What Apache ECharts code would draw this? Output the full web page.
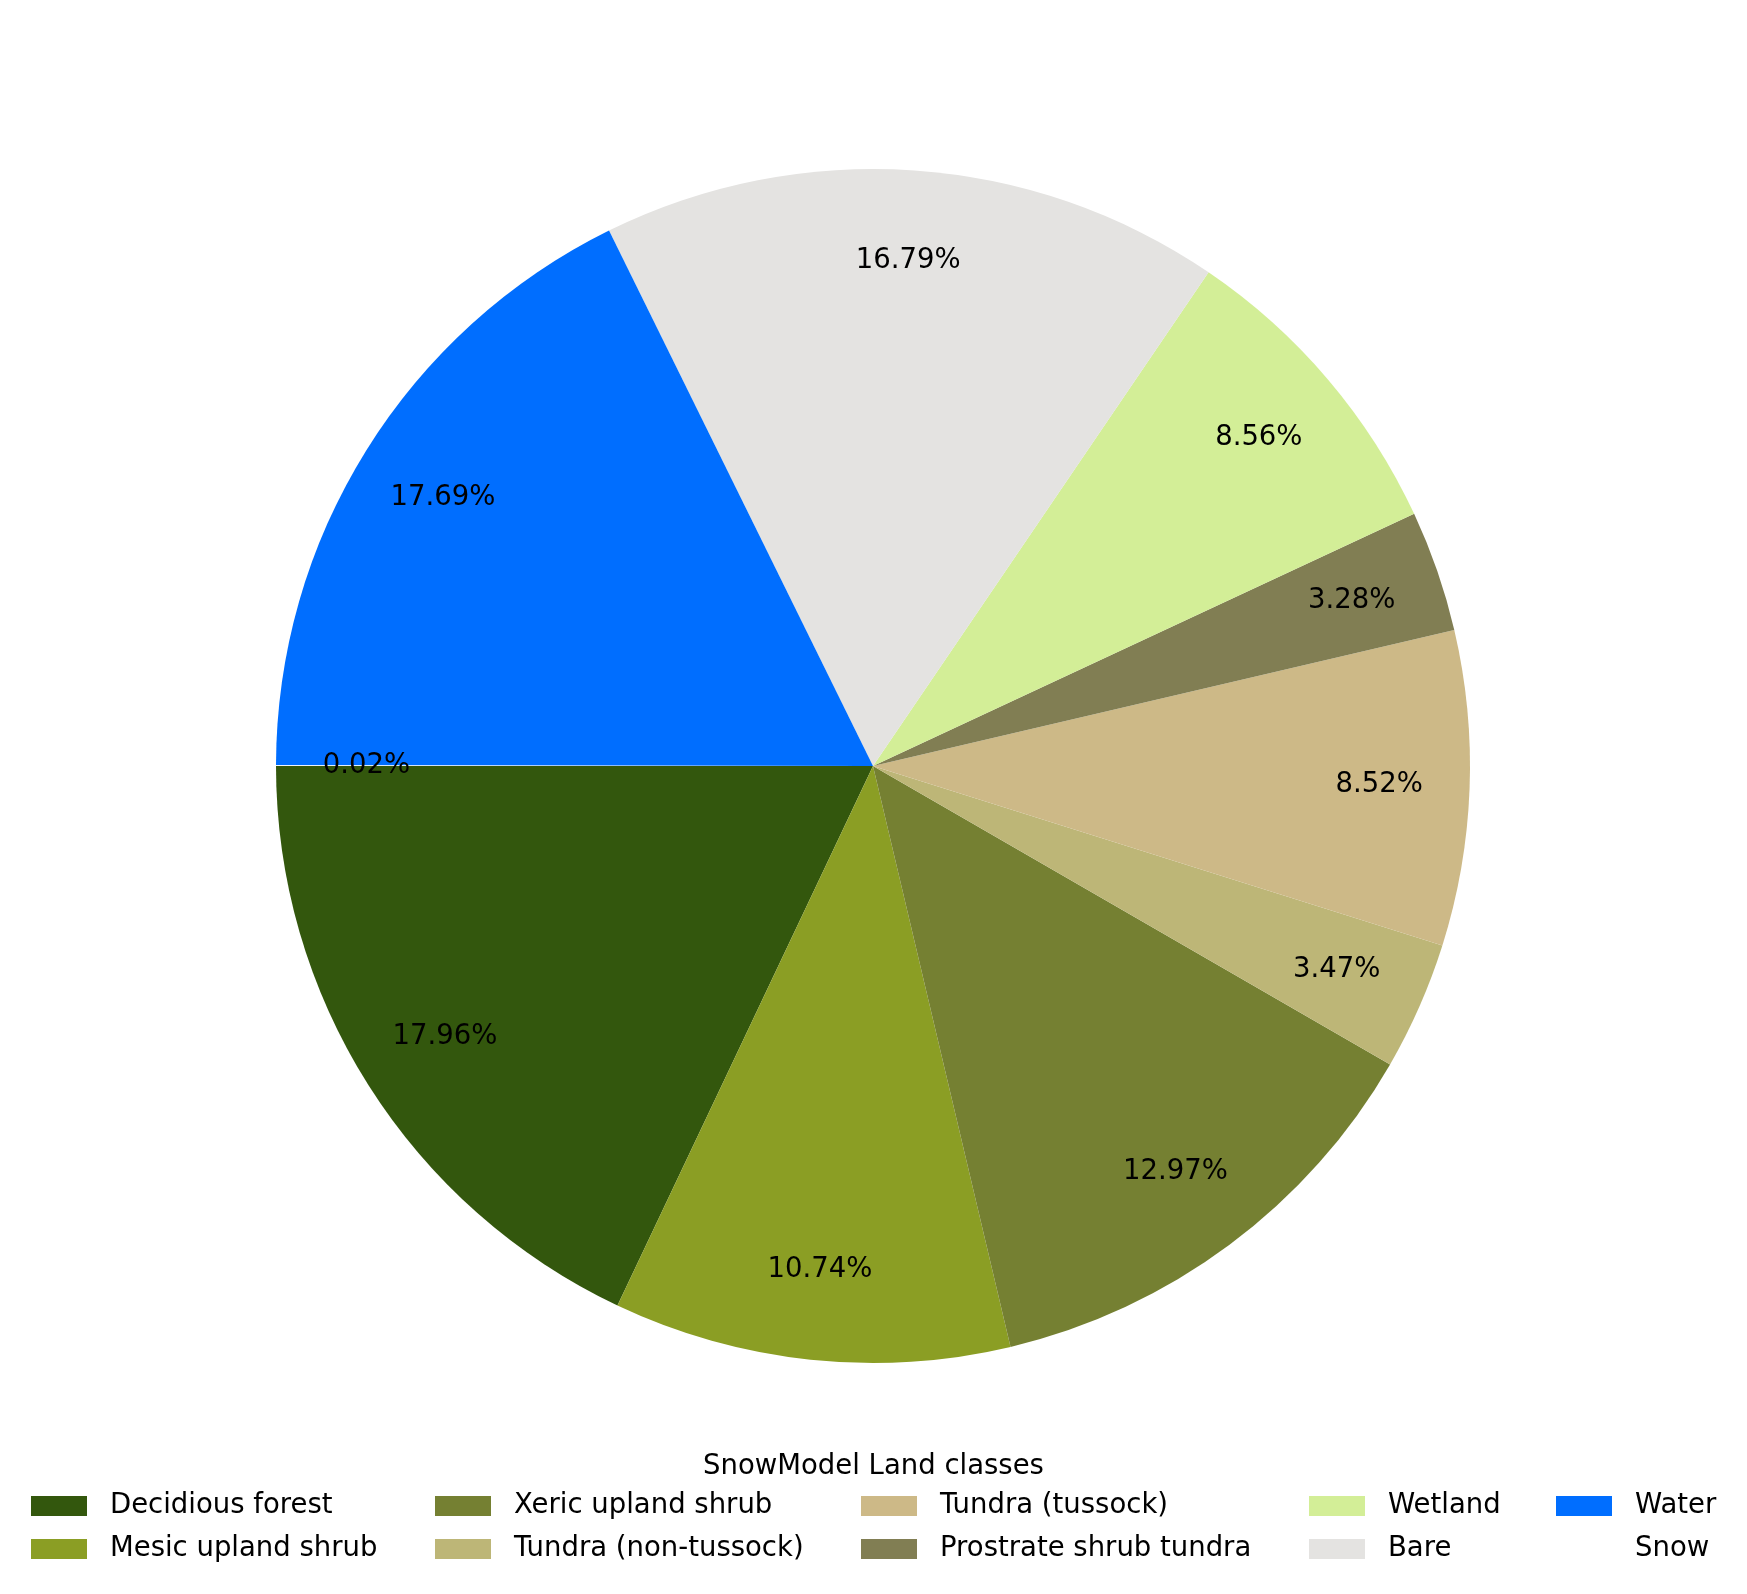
<!DOCTYPE html>
<html>
<head>
<meta charset="utf-8">
<script src="https://cdn.jsdelivr.net/npm/echarts@6/dist/echarts.min.js"></script>
<style>
  html, body { margin: 0; padding: 0; background: #fff; }
  #chart { width: 1747px; height: 1594px; }
</style>
</head>
<body>
<div id="chart"></div>
<script>
// land classes, in the order they go round the pie
const classNames = [
  'Decidious forest', 'Mesic upland shrub', 'Xeric upland shrub',
  'Tundra (non-tussock)', 'Tundra (tussock)', 'Prostrate shrub tundra',
  'Wetland', 'Bare', 'Water', 'Snow'
];
const classShares = [17.96, 10.74, 12.97, 3.47, 8.52, 3.28, 8.56, 16.79, 17.69, 0.02];
const classColors = [
  '#33570d', '#8b9e24', '#758032', '#bdb677', '#cdb987',
  '#817e53', '#d3ee97', '#e4e3e1', '#006eff', '#ffffff'
];

const font = 'DejaVu Sans';
const fontSize = 27.5;
const cx = 873, cy = 766, R = 597;

const pieData = classNames.map((n, i) => ({
  name: n,
  value: classShares[i],
  itemStyle: {color: classColors[i]}
}));

// legend is laid out column by column, two rows
const colLeft = [31, 435, 861, 1309, 1556];
const legends = colLeft.map((x, c) => ({
  data: [classNames[2 * c], classNames[2 * c + 1]],
  orient: 'vertical',
  left: x,
  top: 1492,
  padding: 0,
  itemWidth: 56,
  itemHeight: 20,
  itemGap: 15,
  icon: 'rect',
  selectedMode: false,
  textStyle: {
    fontFamily: font,
    fontSize: fontSize,
    color: '#000',
    lineHeight: 20,
    padding: [0, 0, 0, 18]
  }
}));

const chart = echarts.init(document.getElementById('chart'));
chart.setOption({
  animation: false,
  backgroundColor: '#fff',
  title: {
    text: 'SnowModel Land classes',
    left: 'center',
    top: 1453,
    padding: 0,
    textStyle: {
      fontFamily: font,
      fontSize: fontSize,
      fontWeight: 'normal',
      color: '#000',
      lineHeight: 28
    }
  },
  legend: legends,
  series: [
    {
      name: 'classes',
      type: 'pie',
      center: [cx, cy],
      radius: [0, R],
      startAngle: 180,
      clockwise: false,
      itemStyle: {borderWidth: 0},
      label: {show: false},
      labelLine: {show: false},
      emphasis: {disabled: true},
      data: pieData
    },
    {
      // only carries the percent labels, near 0.85 of the radius
      name: 'labels',
      type: 'pie',
      silent: true,
      center: [cx, cy],
      radius: [0.687 * R, R],
      startAngle: 180,
      clockwise: false,
      itemStyle: {color: 'rgba(0,0,0,0)', borderWidth: 0},
      label: {
        show: true,
        position: 'inside',
        fontFamily: font,
        fontSize: fontSize,
        color: '#000',
        formatter: p => p.value.toFixed(2) + '%'
      },
      labelLine: {show: false},
      emphasis: {disabled: true},
      data: classShares.map((v, i) => ({name: classNames[i], value: v}))
    }
  ]
});
</script>
</body>
</html>
